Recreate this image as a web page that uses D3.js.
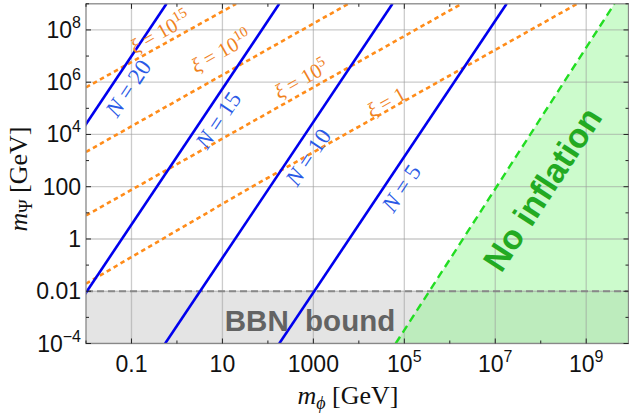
<!DOCTYPE html>
<html><head><meta charset="utf-8">
<script src="https://cdn.jsdelivr.net/npm/d3@7"></script>
<style>body{margin:0;background:#fff}svg{display:block}</style>
</head><body><svg id="c" width="629" height="416"></svg>
<script>
// ---- data ----
const xMajorTicks = [0.1, 10, 1000, 1e5, 1e7, 1e9];
const xMajorLabels = [["0.1",""],["10",""],["1000",""],["10","5"],["10","7"],["10","9"]];
const xMinorTicks = [1e-2, 1, 100, 1e4, 1e6, 1e8];
const yMajorTicks = [1e-4, 1e-2, 1, 100, 1e4, 1e6, 1e8];
const yMajorLabels = [["10","\u22124"],["0.01",""],["1",""],["100",""],["10","4"],["10","6"],["10","8"]];
const yMinorTicks = [1e-3, 0.1, 10, 1e3, 1e5, 1e7, 1e9];

// blue N-contours: [m_phi, m_Psi] end points
const nNames = ["5", "10", "15", "20"];
const nLine5  = [[10**2.25, 1e-4], [10**7.25, 1e9]];
const nLine10 = [[10**-0.26, 1e-4], [10**4.74, 1e9]];
const nLine15 = [[10**-2.75, 1e-4], [10**2.25, 1e9]];
const nLine20 = [[10**-5.23, 1e-4], [10**-0.23, 1e9]];
const nLabelPos = [[401, 188], [308, 157], [218, 120], [128, 88]];

// orange xi-contours
const xiExp = ["1", "5", "10", "15"];
const xiLine1  = [[1e-2, 10**-1.71], [10**1.6, 10**1.95], [10**8.80, 1e9]];
const xiLine5  = [[1e-2, 10**0.90], [10**6.26, 1e9]];
const xiLine10 = [[1e-2, 10**3.33], [10**3.77, 1e9]];
const xiLine15 = [[1e-2, 10**5.80], [10**1.30, 1e9]];
const xiLabelPos = [[386, 102], [301, 79], [221, 51], [160, 32]];

// no-inflation boundary and BBN bound
const noInflation = [[10**4.81, 1e-4], [10**9.62, 1e9]];
const bbnBound = 1e-2;

// ---- drawing ----
const svg = d3.select("#c");
const X0 = 86, X1 = 628.5, Y0 = 3.8, Y1 = 343.5;
const x = d3.scaleLog().domain([1e-2, 10**9.93]).range([X0, X1]);
const y = d3.scaleLog().domain([1e-4, 1e9]).range([Y1, Y0]);
const xMax = x.domain()[1];

svg.append("defs").append("clipPath").attr("id","clip")
  .append("rect").attr("x",X0).attr("y",Y0).attr("width",X1-X0).attr("height",Y1-Y0);
const plot = svg.append("g").attr("clip-path","url(#clip)");

// BBN region
plot.append("rect").attr("x", X0).attr("y", y(bbnBound))
  .attr("width", X1-X0).attr("height", Y1 - y(bbnBound)).attr("fill", "#e4e4e4");
// no-inflation region
const poly = [noInflation[0], noInflation[1], [xMax*10, 1e9], [xMax*10, 1e-4]];
plot.append("path").attr("d", d3.line().x(d=>x(d[0])).y(d=>y(d[1]))(poly) + "Z")
  .attr("fill", "rgb(140,245,140)").attr("fill-opacity", 0.44);

// grid
plot.selectAll(".gx").data(xMajorTicks).join("line")
  .attr("x1", d=>x(d)).attr("x2", d=>x(d)).attr("y1", Y0).attr("y2", Y1)
  .attr("stroke", "#999").attr("stroke-opacity", 0.5).attr("stroke-width", 1.3);
plot.selectAll(".gy").data(yMajorTicks).join("line")
  .attr("y1", d=>y(d)).attr("y2", d=>y(d)).attr("x1", X0).attr("x2", X1)
  .attr("stroke", "#999").attr("stroke-opacity", 0.5).attr("stroke-width", 1.3);

// BBN dashed line
plot.append("line").attr("x1", X0).attr("x2", X1).attr("y1", y(bbnBound)).attr("y2", y(bbnBound))
  .attr("stroke", "#888").attr("stroke-width", 2).attr("stroke-dasharray", "7,4");

const line = d3.line().x(d=>x(d[0])).y(d=>y(d[1]));
// orange lines
[xiLine1, xiLine5, xiLine10, xiLine15].forEach(l => {
  plot.append("path").attr("d", line(l)).attr("fill","none")
    .attr("stroke", "#ff8c1a").attr("stroke-width", 2.6).attr("stroke-dasharray", "4.5,3.5");
});
// blue lines
[nLine5, nLine10, nLine15, nLine20].forEach(l => {
  plot.append("path").attr("d", line(l)).attr("fill","none")
    .attr("stroke", "#0000ee").attr("stroke-width", 2.6);
});
// green dashed boundary
plot.append("path").attr("d", line(noInflation)).attr("fill","none")
  .attr("stroke", "#22dd22").attr("stroke-width", 2.4).attr("stroke-dasharray", "8,5");

// region labels
plot.append("text").attr("x", 310).attr("y", 331).attr("text-anchor","middle")
  .attr("font-family","Liberation Sans, Arial, sans-serif").attr("font-weight","bold")
  .attr("font-size", 29.5).attr("fill","#636363").style("white-space","pre").text("BBN  bound");
plot.append("text").attr("transform","translate(542,189) rotate(-57)")
  .attr("text-anchor","middle").attr("dy","0.36em")
  .attr("font-family","Liberation Sans, Arial, sans-serif").attr("font-weight","bold")
  .attr("font-size", 34).attr("fill","#22aa22").text("No inflation");

// N labels
nNames.forEach((n, i) => {
  const t = svg.append("text").attr("transform", `translate(${nLabelPos[i][0]},${nLabelPos[i][1]}) rotate(-56.3)`)
    .attr("text-anchor","middle").attr("dy","0.35em")
    .attr("font-family","Liberation Serif, Times New Roman, serif").attr("font-size", 23)
    .attr("fill","#2a5ae6");
  t.append("tspan").attr("font-style","italic").text("N");
  t.append("tspan").text(" = " + n);
});
// xi labels
xiExp.forEach((e, i) => {
  const t = svg.append("text").attr("transform", `translate(${xiLabelPos[i][0]},${xiLabelPos[i][1]}) rotate(-29.5)`)
    .attr("text-anchor","middle").attr("dy","0.35em")
    .attr("font-family","Liberation Serif, Times New Roman, serif").attr("font-size", 20.5)
    .attr("fill","#f0821e");
  t.append("tspan").attr("font-style","italic").text("\u03be");
  if (e === "1") t.append("tspan").text(" = 1");
  else {
    t.append("tspan").text(" = 10");
    t.append("tspan").attr("dy", -8).attr("font-size", 14.5).text(e);
  }
});

// frame
svg.append("rect").attr("x", X0).attr("y", Y0).attr("width", X1-X0).attr("height", Y1-Y0)
  .attr("fill","none").attr("stroke","#888").attr("stroke-width",1.3);

// ticks
const tk = svg.append("g").attr("stroke","#222").attr("stroke-width",1);
function xt(vals, len) {
  vals.forEach(v => {
    tk.append("line").attr("x1",x(v)).attr("x2",x(v)).attr("y1",Y1).attr("y2",Y1-len);
    tk.append("line").attr("x1",x(v)).attr("x2",x(v)).attr("y1",Y0).attr("y2",Y0+len);
  });
}
function yt(vals, len) {
  vals.forEach(v => {
    tk.append("line").attr("y1",y(v)).attr("y2",y(v)).attr("x1",X0).attr("x2",X0+len);
    tk.append("line").attr("y1",y(v)).attr("y2",y(v)).attr("x1",X1).attr("x2",X1-len);
  });
}
xt(xMajorTicks, 5); xt(xMinorTicks, 3); yt(yMajorTicks, 5); yt(yMinorTicks, 3);

// tick labels
const lf = "Liberation Sans, Arial, sans-serif";
xMajorTicks.forEach((v, i) => {
  const t = svg.append("text").attr("x", x(v)).attr("y", 372).attr("text-anchor","middle")
    .attr("font-family", lf).attr("font-size", 23).attr("fill","#111");
  t.append("tspan").text(xMajorLabels[i][0]);
  if (xMajorLabels[i][1]) t.append("tspan").attr("dy",-10).attr("font-size",16).text(xMajorLabels[i][1]);
});
yMajorTicks.forEach((v, i) => {
  const t = svg.append("text").attr("x", 81).attr("y", y(v) + 8).attr("text-anchor","end")
    .attr("font-family", lf).attr("font-size", 23).attr("fill","#111");
  t.append("tspan").text(yMajorLabels[i][0]);
  if (yMajorLabels[i][1]) t.append("tspan").attr("dy",-10).attr("font-size",16).text(yMajorLabels[i][1]);
});

// axis titles
const sf = "Liberation Serif, Times New Roman, serif";
const xtTitle = svg.append("text").attr("x", 348).attr("y", 404).attr("text-anchor","middle")
  .attr("font-family", sf).attr("font-size", 26).attr("fill","#111");
xtTitle.append("tspan").attr("font-style","italic").text("m");
xtTitle.append("tspan").attr("font-style","italic").attr("font-size",18).attr("dy",5).text("\u03d5");
xtTitle.append("tspan").attr("dy",-5).text(" [GeV]");

const ytTitle = svg.append("text").attr("transform","translate(27,179) rotate(-90)").attr("text-anchor","middle")
  .attr("font-family", sf).attr("font-size", 26).attr("fill","#111");
ytTitle.append("tspan").attr("font-style","italic").text("m");
ytTitle.append("tspan").attr("font-size",18).attr("dy",5).text("\u03a8");
ytTitle.append("tspan").attr("dy",-5).text(" [GeV]");
</script></body></html>
